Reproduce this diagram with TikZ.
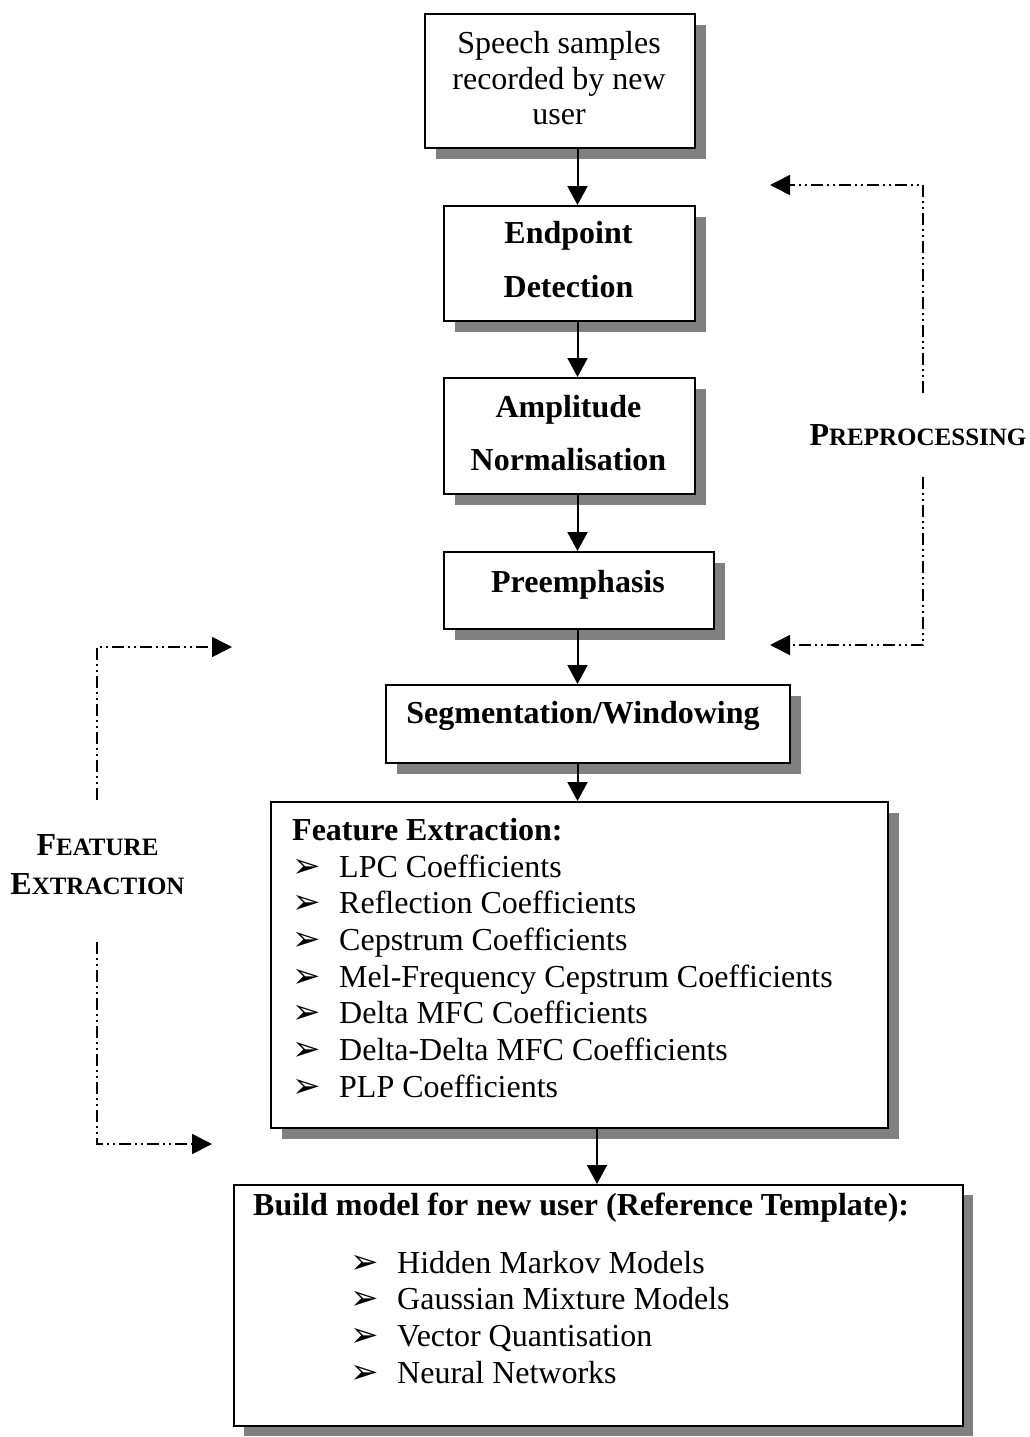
\documentclass[tikz,border=0pt]{standalone}
\usepackage{fontspec}
\setmainfont{Liberation Serif}
\newfontfamily\dingfont{DejaVu Sans}
\usetikzlibrary{arrows.meta,shadows}

\begin{document}
\begin{tikzpicture}[x=1pt,y=-1pt,
  box/.style={draw, line width=1.8pt, fill=white, inner sep=0pt, anchor=north west,
    general shadow={fill=black!50, shadow xshift=#1, shadow yshift=-#1}},
  box/.default=11pt,
  rm/.style={font=\fontsize{32}{36}\selectfont, inner sep=0pt},
  bf/.style={font=\fontsize{32}{36}\selectfont\bfseries, inner sep=0pt},
  bullet/.style={font=\fontsize{34}{36}\selectfont\dingfont, inner sep=0pt, anchor=base west},
  flow/.style={line width=2pt, -{Triangle[length=19pt,width=20pt]}},
  loop/.style={line width=1.6pt, dash pattern=on 12pt off 4pt on 2pt off 4pt on 2pt off 4pt,
    -{Triangle[length=20pt,width=20pt]}},
  sc/.style={font=\fontsize{32}{36}\selectfont\bfseries, inner sep=0pt, anchor=base}
]
\fill[white] (0,0) rectangle (1029,1437);
\useasboundingbox (0,0) rectangle (1029,1437);

% processing chain
\node[box, minimum width=270pt, minimum height=134pt] (rec) at (424,13) {};
\node[rm, anchor=base] (rec1) at (559,53) {Speech samples};
\node[rm, anchor=base] (rec2) at (559,89) {recorded by new};
\node[rm, anchor=base] (rec3) at (559,124) {user};

\node[box, minimum width=251pt, minimum height=115pt] (epd) at (443,205) {};
\node[bf, anchor=base] (epd1) at (568.5,243) {Endpoint};
\node[bf, anchor=base] (epd2) at (568.5,297) {Detection};

\node[box, minimum width=251pt, minimum height=116pt] (amp) at (443,377) {};
\node[bf, anchor=base] (amp1) at (568.5,417) {Amplitude};
\node[bf, anchor=base] (amp2) at (568.5,470) {Normalisation};

\node[box, minimum width=270pt, minimum height=77pt] (pre) at (443,551) {};
\node[bf, anchor=base] (pre1) at (578,592) {Preemphasis};

\node[box, minimum width=404pt, minimum height=78pt] (seg) at (385,684) {};
\node[bf, anchor=base] (seg1) at (583,723) {Segmentation/Windowing};

\node[box, minimum width=617pt, minimum height=326pt] (fex) at (270,801) {};
\node[bf, anchor=base west] (fexh) at (292,840) {Feature Extraction:};
\foreach \t [count=\i] in {LPC Coefficients, Reflection Coefficients, Cepstrum Coefficients,
    Mel-Frequency Cepstrum Coefficients, Delta MFC Coefficients,
    Delta-Delta MFC Coefficients, PLP Coefficients}{
  \node[bullet] (fexb\i) at (292,{877+(\i-1)*36.67}) {➢};
  \node[rm, anchor=base west] (fexi\i) at (339,{877+(\i-1)*36.67}) {\t};
}

\node[box=10pt, minimum width=729pt, minimum height=241pt] (mdl) at (233,1184) {};
\node[bf, anchor=base west] (mdlh) at (253,1215) {Build model for new user (Reference Template):};
\foreach \t [count=\i] in {Hidden Markov Models, Gaussian Mixture Models,
    Vector Quantisation, Neural Networks}{
  \node[bullet] (mdlb\i) at (350,{1273+(\i-1)*36.67}) {➢};
  \node[rm, anchor=base west] (mdli\i) at (397,{1273+(\i-1)*36.67}) {\t};
}

% flow arrows
\coordinate (sp) at (577.5,0);
\coordinate (sq) at (597,0);
\draw[flow] (rec.south -| sp) -- (epd.north -| sp);
\draw[flow] (epd.south -| sp) -- (amp.north -| sp);
\draw[flow] (amp.south -| sp) -- (pre.north -| sp);
\draw[flow] (pre.south -| sp) -- (seg.north -| sp);
\draw[flow] (seg.south -| sp) -- (fex.north -| sp);
\draw[flow] (fex.south -| sq) -- (mdl.north -| sq);

% preprocessing bracket
\node[sc] (prelab) at (918,445) {P{\fontsize{25}{30}\selectfont REPROCESSING}};
\coordinate (pa) at (923,393);
\coordinate (pb) at (923,185);
\coordinate (pc) at (770,185);
\coordinate (pd) at (923,477);
\coordinate (pe) at (923,645);
\coordinate (pf) at (770,645);
\draw[loop] (pa) -- (pb) -- (pc);
\draw[loop] (pd) -- (pe) -- (pf);

% feature extraction bracket
\node[sc] (felab1) at (97.5,855) {F{\fontsize{25}{30}\selectfont EATURE}};
\node[sc] (felab2) at (97.5,894) {E{\fontsize{25}{30}\selectfont XTRACTION}};
\coordinate (fa) at (97,800);
\coordinate (fb) at (97,647);
\coordinate (fc) at (232,647);
\coordinate (fd) at (97,942);
\coordinate (fe) at (97,1144);
\coordinate (ff) at (212,1144);
\draw[loop] (fa) -- (fb) -- (fc);
\draw[loop] (fd) -- (fe) -- (ff);
\end{tikzpicture}
\end{document}
